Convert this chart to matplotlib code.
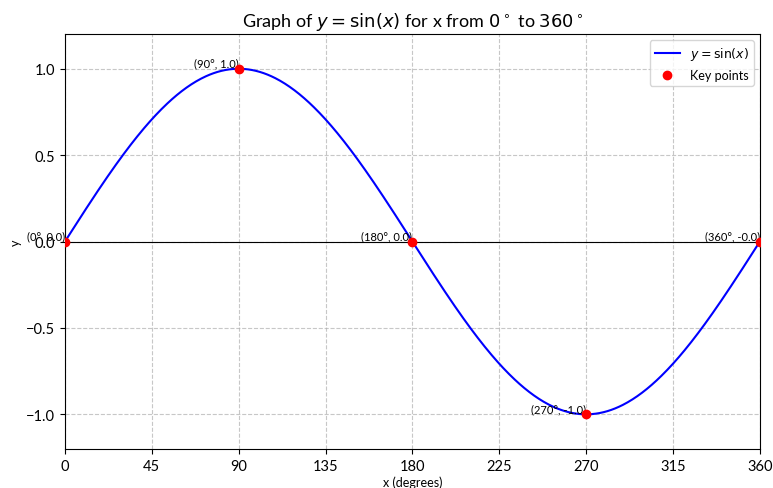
import numpy as np
import matplotlib.pyplot as plt

plt.rcParams['font.family'] = ['Lato', 'DejaVu Sans']

# key points of the sine curve
key_deg = [0, 90, 180, 270, 360]
key_val = [0.0, 1.0, 0.0, -1.0, -0.0]
key_labels = ["(0°, 0.0)", "(90°, 1.0)", "(180°, 0.0)", "(270°, -1.0)", "(360°, -0.0)"]
tick_deg = [0, 45, 90, 135, 180, 225, 270, 315, 360]

x = np.linspace(0, 360, 721)
y = np.sin(np.radians(x))

fig, ax = plt.subplots(figsize=(7.73, 4.89), dpi=100)
fig.subplots_adjust(left=0.084, right=0.983, top=0.928, bottom=0.08)

ax.plot(x, y, color='blue', label=r'$y = \sin(x)$')
ax.scatter(key_deg, key_val, color='red', zorder=5, label='Key points')
for xd, yv, txt in zip(key_deg, key_val, key_labels):
    ax.text(xd, yv, txt, ha='right', va='bottom', fontsize=8)

ax.axhline(0, color='black', linewidth=0.8)
ax.set_xlim(0, 360)
ax.set_ylim(-1.2, 1.2)
ax.set_xticks(tick_deg)
ax.set_yticks([-1.0, -0.5, 0.0, 0.5, 1.0])
ax.tick_params(labelsize=10.5)
ax.set_title(r'Graph of $y = \sin(x)$ for x from $0^\circ$ to $360^\circ$', fontsize=13)
ax.set_xlabel('x (degrees)', fontsize=9, labelpad=2)
ax.set_ylabel('y', fontsize=9, labelpad=3)
ax.grid(True, linestyle='--', alpha=0.7)
ax.legend(loc='upper right', fontsize=9)

fig.savefig('out.png')
